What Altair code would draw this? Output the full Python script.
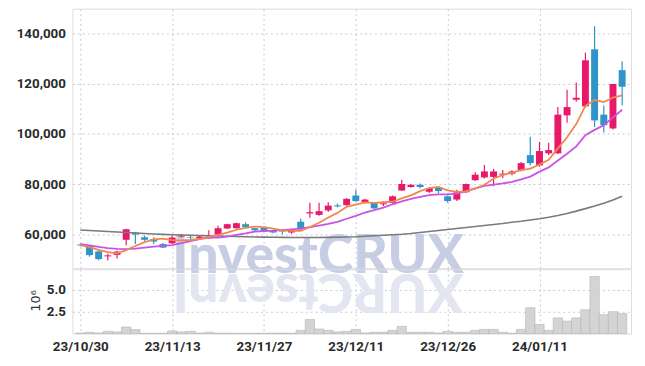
import altair as alt
import pandas as pd

dates = ["23/10/30", "23/10/31", "23/11/01", "23/11/02", "23/11/03", "23/11/06", "23/11/07", "23/11/08",
         "23/11/09", "23/11/10", "23/11/13", "23/11/14", "23/11/15", "23/11/16", "23/11/17", "23/11/20",
         "23/11/21", "23/11/22", "23/11/23", "23/11/24", "23/11/27", "23/11/28", "23/11/29", "23/11/30",
         "23/12/01", "23/12/04", "23/12/05", "23/12/06", "23/12/07", "23/12/08", "23/12/11", "23/12/12",
         "23/12/13", "23/12/14", "23/12/15", "23/12/18", "23/12/19", "23/12/20", "23/12/21", "23/12/22",
         "23/12/26", "23/12/27", "23/12/28", "24/01/02", "24/01/03", "24/01/04", "24/01/05", "24/01/08",
         "24/01/09", "24/01/10", "24/01/11", "24/01/12", "24/01/15", "24/01/16", "24/01/17", "24/01/18",
         "24/01/19", "24/01/22", "24/01/23", "24/01/24"]

opens = [56000, 55500, 53300, 51300, 51900, 57900, 60800, 58900, 58200, 56200,
         56500, 59200, 59000, 58400, 58500, 59900, 62400, 62500, 64100, 62500,
         62800, 61700, 61300, 60800, 65100, 68400, 67800, 69600, 71600, 71700,
         75500, 72900, 72600, 72000, 72600, 77500, 78900, 79800, 77000, 78900,
         75200, 73900, 76800, 81600, 82700, 82900, 83800, 84200, 85500, 91600,
         87500, 92300, 92300, 107400, 113600, 111000, 133700, 107700, 102200, 125400]
highs = [56300, 55700, 53500, 52300, 53500, 62300, 61000, 59600, 58900, 56600,
         59500, 60200, 59400, 59500, 61700, 63500, 64300, 64700, 64800, 62700,
         63000, 61900, 62000, 62200, 66400, 72600, 72600, 72800, 72300, 74400,
         77800, 74200, 72900, 73100, 75500, 81800, 80000, 80300, 78800, 79200,
         75500, 77800, 80300, 84800, 87700, 86100, 85700, 85600, 88800, 98900,
         96900, 96500, 110700, 117600, 120500, 132400, 142900, 111300, 120000, 128800]
lows = [55300, 51200, 49800, 49700, 50500, 55700, 56200, 57300, 56200, 54600,
        56300, 58800, 58200, 58200, 58300, 59700, 62200, 62300, 62500, 61300,
        61000, 60500, 60100, 60300, 61800, 66700, 67500, 69000, 70800, 71400,
        73000, 72300, 70100, 71300, 72300, 77300, 78600, 78300, 76500, 76400,
        72600, 73300, 76500, 81300, 82300, 79200, 82400, 83600, 85200, 87600,
        87000, 91600, 92000, 104500, 112800, 110500, 102800, 100600, 101800, 111300]
closes = [55700, 51800, 50200, 51700, 53200, 62100, 60000, 57900, 57200, 54800,
          58800, 59500, 58800, 59200, 59200, 62500, 64100, 64500, 63000, 61700,
          61500, 60800, 61100, 62000, 62100, 68900, 69300, 71500, 71200, 74200,
          73300, 73900, 70400, 72400, 75200, 80100, 79800, 78900, 78500, 77300,
          73300, 76800, 80100, 83800, 85100, 85100, 84200, 85100, 88400, 88400,
          93200, 93600, 107700, 110700, 114400, 129300, 105400, 103500, 119900, 118800]

ma5 = [55800, 55000, 53900, 53000, 52520, 53800, 55440, 56980, 58080, 58400,
       57740, 57640, 57820, 58220, 59100, 59840, 60760, 61900, 62660, 63160,
       62960, 62300, 61620, 61420, 61500, 62980, 64680, 66760, 68600, 71020,
       71900, 72820, 72600, 72840, 73040, 74400, 75580, 77280, 78500, 78920,
       77560, 76960, 77200, 78260, 79820, 82180, 83660, 84660, 85580, 86240,
       87860, 89740, 94260, 98720, 103920, 111140, 113500, 112660, 114500, 115380]
ma10 = [56200, 55700, 55100, 54600, 54300, 54200, 54400, 54800, 55200, 55460,
        55770, 56540, 57400, 58150, 58750, 58790, 59200, 59860, 60440, 61130,
        61400, 61530, 61760, 62040, 62330, 62970, 63490, 64190, 65010, 66260,
        67440, 68750, 69680, 70720, 72030, 73150, 74200, 74940, 75670, 75980,
        75980, 76270, 77240, 78380, 79370, 79870, 80310, 80930, 81920, 83030,
        85020, 86700, 89460, 92150, 95080, 99500, 101620, 103460, 106610, 109650]
ma_long = [61800, 61600, 61400, 61200, 61000, 60800, 60600, 60400, 60200, 60050,
           59900, 59800, 59700, 59600, 59500, 59400, 59300, 59200, 59100, 59000,
           58950, 58900, 58850, 58800, 58800, 58800, 58800, 58850, 58900, 59000,
           59100, 59300, 59500, 59700, 59900, 60100, 60400, 60800, 61200, 61600,
           62000, 62400, 62800, 63200, 63600, 64000, 64400, 64900, 65300, 65800,
           66300, 66900, 67600, 68400, 69300, 70300, 71300, 72400, 73700, 75200]

volume_m = [0.07, 0.15, 0.07, 0.26, 0.19, 0.75, 0.45, 0.04, 0.04, 0.04,
            0.30, 0.19, 0.26, 0.07, 0.15, 0.05, 0.05, 0.04, 0.04, 0.04,
            0.04, 0.05, 0.05, 0.05, 0.37, 1.60, 0.52, 0.37, 0.19, 0.26,
            0.48, 0.07, 0.15, 0.15, 0.37, 0.82, 0.15, 0.15, 0.15, 0.07,
            0.26, 0.15, 0.15, 0.37, 0.48, 0.48, 0.15, 0.04, 0.48, 2.95,
            1.04, 0.37, 1.79, 1.42, 1.79, 2.72, 6.53, 2.16, 2.50, 2.28]

price_ticks = [60000, 80000, 100000, 120000, 140000]
vol_ticks = [2.5, 5.0]
x_ticks = [0, 10, 20, 30, 40, 50]

n = len(dates)
df = pd.DataFrame({
    "i": list(range(n)), "date": dates, "open": opens, "high": highs,
    "low": lows, "close": closes, "ma5": ma5, "ma10": ma10, "malong": ma_long,
    "vol": volume_m,
})
df["dir"] = ["up" if c >= o else "down" for o, c in zip(opens, closes)]

RED = "#e8186b"
BLUE = "#2f94c8"
LABEL_FONT = "Roboto"

x_dom = [-0.32, 59.43]
xscale = alt.Scale(domain=x_dom, nice=False, zero=False)
color = alt.Color("dir:N", scale=alt.Scale(domain=["up", "down"], range=[RED, BLUE]), legend=None)

grid_kw = dict(grid=True, gridColor="#c6c8de", gridDash=[2, 3], gridWidth=1)
lab_kw = dict(labelFont=LABEL_FONT, labelFontWeight="bold", labelFontSize=13.5, labelColor="#2a2a2a")

x_hidden = alt.X("i:Q", scale=xscale, axis=alt.Axis(values=x_ticks, labels=False, ticks=False,
                                                    domain=False, title=None, **grid_kw))
yprice = alt.Y("low:Q", scale=alt.Scale(domain=[46600, 149850], nice=False, zero=False),
               axis=alt.Axis(values=price_ticks, format=",d", title=None, ticks=False, domain=False,
                             labelPadding=7, minExtent=59, maxExtent=59, **lab_kw, **grid_kw))

base = alt.Chart(df)

wm = alt.Chart(pd.DataFrame({"t": ["InvestCRUX"]})).mark_text(
    font="Lato", fontWeight=900, fontSize=54, color="#c7cde2", align="center", baseline="alphabetic"
).encode(text="t:N", x=alt.value(248), y=alt.value(267))

wick = base.mark_rule(strokeWidth=1.2).encode(x=x_hidden, y=yprice, y2="high:Q", color=color)
body = base.mark_bar(size=7).encode(x="i:Q", y="open:Q", y2="close:Q", color=color)
l_long = base.mark_line(color="#7a7a7a", strokeWidth=1.6).encode(x="i:Q", y="malong:Q")
l10 = base.mark_line(color="#c853e6", strokeWidth=1.8).encode(x="i:Q", y="ma10:Q")
l5 = base.mark_line(color="#f0884e", strokeWidth=1.8).encode(x="i:Q", y="ma5:Q")

price = alt.layer(wm, wick, body, l_long, l10, l5).properties(width=564, height=262)

wm_ref = alt.Chart(pd.DataFrame({"t": ["XURCtsevnI"]})).mark_text(
    font="Lato", fontWeight=900, fontSize=54, color="#e3e6f0", align="center", baseline="alphabetic",
    angle=180
).encode(text="t:N", x=alt.value(248), y=alt.value(5))

vol_title = alt.Chart(pd.DataFrame({"t": ["10⁶"]})).mark_text(
    font="DejaVu Sans", fontSize=13, color="#333", angle=270, align="center", baseline="middle"
).encode(text="t:N", x=alt.value(-37), y=alt.value(32))

label_expr = "[" + ",".join("'" + d + "'" for d in dates) + "][round(datum.value)]"
x_vol = alt.X("i:Q", scale=xscale, axis=alt.Axis(values=x_ticks, labelExpr=label_expr, ticks=False,
                                                 domain=False, title=None, labelPadding=6,
                                                 **lab_kw, **grid_kw))
vbars = base.mark_bar(size=9.4, color="#d4d4d4", stroke="#b4b4b4", strokeWidth=0.6).encode(
    x=x_vol,
    y=alt.Y("vol:Q", scale=alt.Scale(domain=[0, 7.35], nice=False),
            axis=alt.Axis(values=vol_ticks, format=".1f", title=None, ticks=False, domain=False,
                          labelPadding=7, minExtent=59, maxExtent=59, **lab_kw, **grid_kw)),
)
volume = alt.layer(wm_ref, vbars, vol_title).properties(width=564, height=65)

chart = alt.vconcat(price, volume, spacing=1, bounds="flush").properties(
    padding={"left": 5, "top": -2, "right": 5, "bottom": 5}
).configure_view(stroke="#d6d6d6", strokeWidth=1).configure(background="white")

chart.save("out.html", embed_options={"renderer": "svg", "actions": False})
